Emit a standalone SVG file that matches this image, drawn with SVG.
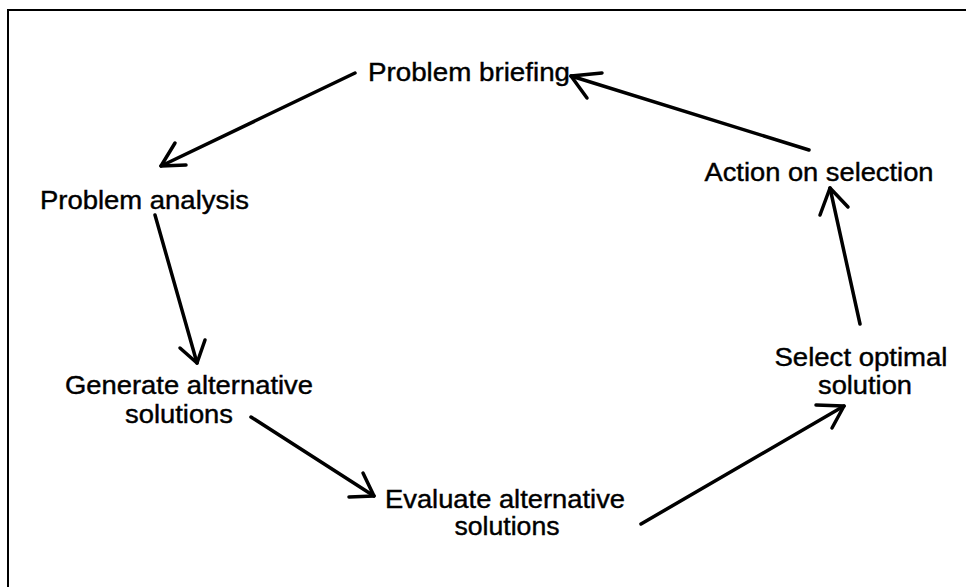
<svg xmlns="http://www.w3.org/2000/svg" width="966" height="587" viewBox="0 0 966 587">
  <style>
    .lbl { font-family: "Liberation Sans", Arial, sans-serif; font-size: 25px; fill: #000; stroke: #000; stroke-width: 0.4; text-anchor: middle; }
    .ln { fill: none; stroke: #000; stroke-width: 3.5; stroke-linecap: round; stroke-linejoin: round; }
    .frame { fill: none; stroke: #000; stroke-width: 2; }
  </style>
  <rect width="966" height="587" fill="#fff"/>
  <!-- frame: top and left edges -->
  <path class="frame" d="M8,587 L8,10 L966,10"/>

  <g id="connectors">
    <!-- briefing -> analysis -->
    <path class="ln" d="M355,73 L161,166"/>
    <path class="ln" d="M175,143 L161,166 L186,165"/>
    <!-- analysis -> generate -->
    <path class="ln" d="M155,215 L197,363"/>
    <path class="ln" d="M180,348 L197,363 L205,340"/>
    <!-- generate -> evaluate -->
    <path class="ln" d="M251,417 L374,496"/>
    <path class="ln" d="M363,473 L374,496 L349,497"/>
    <!-- evaluate -> select -->
    <path class="ln" d="M641,524 L844,406"/>
    <path class="ln" d="M816,405 L844,406 L832,428"/>
    <!-- select -> action -->
    <path class="ln" d="M860,324 L830,188"/>
    <path class="ln" d="M820,215 L830,188 L848,207"/>
    <!-- action -> briefing -->
    <path class="ln" d="M809,150 L571,76"/>
    <path class="ln" d="M602,73 L571,76 L587,98"/>
  </g>

  <g id="problem-briefing">
    <text class="lbl" x="469" y="81" textLength="202" lengthAdjust="spacingAndGlyphs">Problem briefing</text>
  </g>
  <g id="problem-analysis">
    <text class="lbl" x="144.5" y="209" textLength="209" lengthAdjust="spacingAndGlyphs">Problem analysis</text>
  </g>
  <g id="generate-alternatives">
    <text class="lbl" x="189" y="394" textLength="248" lengthAdjust="spacingAndGlyphs">Generate alternative</text>
    <text class="lbl" x="179" y="423" textLength="108" lengthAdjust="spacingAndGlyphs">solutions</text>
  </g>
  <g id="evaluate-alternatives">
    <text class="lbl" x="505" y="508" textLength="240" lengthAdjust="spacingAndGlyphs">Evaluate alternative</text>
    <text class="lbl" x="507" y="535" textLength="105" lengthAdjust="spacingAndGlyphs">solutions</text>
  </g>
  <g id="select-optimal">
    <text class="lbl" x="861" y="366" textLength="173" lengthAdjust="spacingAndGlyphs">Select optimal</text>
    <text class="lbl" x="865" y="394" textLength="94" lengthAdjust="spacingAndGlyphs">solution</text>
  </g>
  <g id="action-on-selection">
    <text class="lbl" x="819" y="181" textLength="229" lengthAdjust="spacingAndGlyphs">Action on selection</text>
  </g>
</svg>
